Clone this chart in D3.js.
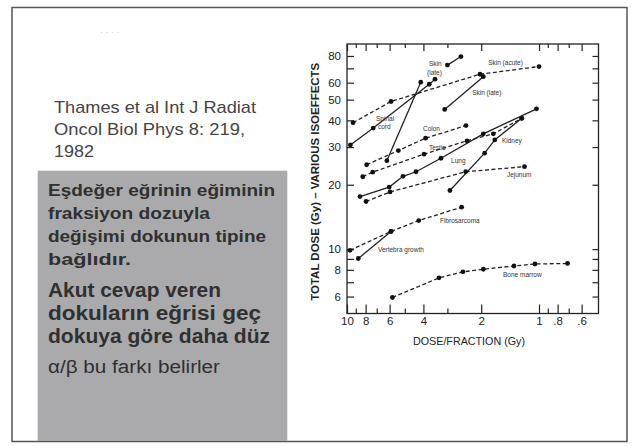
<!DOCTYPE html>
<html>
<head>
<meta charset="utf-8">
<script src="https://cdn.jsdelivr.net/npm/d3@7"></script>
<style>
  body { margin: 0; background: #fff; }
  svg { display: block; font-family: "Liberation Sans", Arial, sans-serif; }
</style>
</head>
<body>
<svg id="slide" width="637" height="446"></svg>
<script>
// Data: [dose per fraction (Gy), total dose (Gy)].
var skinAcute    = [[9.3, 39], [5.9, 49], [2.03, 65.7], [1.0, 71.4]];
var skinLateA    = [[6.2, 25.9], [4.13, 60.3]];
var skinLateB    = [[3.1, 45], [1.95, 64]];
var skinLateC    = [[3.0, 72.5], [2.55, 79.5]];
var spinalCord   = [[9.6, 30.7], [7.3, 36.8], [3.73, 59], [3.48, 62.3]];
var colon        = [[7.9, 24.8], [5.4, 28.9], [3.9, 33], [2.4, 37.8]];
var testis       = [[8.28, 21.8], [7.35, 22.9], [3.97, 27.8], [2.37, 32.1], [1.73, 34.6], [1.23, 40.9]];
var lung         = [[8.56, 17.6], [6.03, 19.5], [5.11, 21.9], [4.37, 23], [3.24, 26.6], [1.95, 34.6], [1.03, 45.3]];
var kidney       = [[2.91, 18.8], [1.92, 28.1], [1.7, 32.4], [1.23, 40.9]];
var jejunum      = [[7.96, 16.7], [5.97, 18.5], [2.41, 23], [1.19, 24.3]];
var fibrosarcoma = [[9.65, 9.87], [5.9, 12.1], [4.23, 13.6], [2.53, 15.7]];
var vertebra     = [[8.73, 9.04], [5.9, 12.1]];
var boneMarrow   = [[5.8, 5.94], [3.32, 7.34], [2.49, 7.83], [1.95, 8.05], [1.35, 8.34], [1.05, 8.52], [0.71, 8.57]];

// Which curves are dashed.
var dashedSeries = [skinAcute, colon, testis, jejunum, fibrosarcoma, boneMarrow];
var solidSeries  = [skinLateA, skinLateB, skinLateC, spinalCord, lung, kidney, vertebra];

// Curve labels: text and anchor [dose, total dose] of the label's start.
var curveLabels = [
  ["Skin (acute)", 1.84, 72.6],
  ["Skin", 3.74, 71.9],
  ["(late)", 3.83, 65.3],
  ["Skin (late)", 2.23, 52.6],
  ["Spinal", 7.06, 39.8],
  ["cord", 6.9, 36.5],
  ["Colon", 4.02, 35.5],
  ["Testis", 3.74, 29.0],
  ["Lung", 2.87, 25.3],
  ["Kidney", 1.56, 31.2],
  ["Jejunum", 1.47, 21.7],
  ["Fibrosarcoma", 3.28, 13.2],
  ["Vertebra growth", 6.9, 9.66],
  ["Bone marrow", 1.54, 7.38]
];

var xTicks  = [10, 9, 8, 7, 6, 5, 4, 3, 2, 1, 0.9, 0.8, 0.7, 0.6];
var xLabels = [10, 8, 6, 4, 2, 1, 0.8, 0.6];
var yTicks  = [6, 7, 8, 9, 10, 20, 30, 40, 50, 60, 70, 80];
var yLabels = [6, 8, 10, 20, 30, 40, 50, 60, 80];

// Slide text, with the width each line takes on the slide.
var refLines  = [["Thames et al Int J Radiat", 202], ["Oncol Biol Phys 8: 219,", 191], ["1982", 40]];
var boxLines1 = [["Eşdeğer eğrinin eğiminin", 227], ["fraksiyon dozuyla", 162],
                 ["değişimi dokunun tipine", 218], ["bağlıdır.", 83]];
var boxLines2 = [["Akut cevap veren", 173], ["dokuların eğrisi geç", 213], ["dokuya göre daha düz", 222]];
var boxLine3  = ["α/β bu farkı belirler", 172];

var svg = d3.select('#slide');

// Slide frame
svg.append('rect')
  .attr('x', 12).attr('y', 7.5).attr('width', 615).attr('height', 434)
  .attr('fill', 'none').attr('stroke', '#555').attr('stroke-width', 1.5);

svg.append('text')
  .attr('x', 100).attr('y', 35)
  .attr('fill', '#ccc').attr('font-size', 9)
  .text('· ·  · ·');

var stretch = function(sel) {
  sel.attr('textLength', function(d) { return d[1]; })
    .attr('lengthAdjust', 'spacingAndGlyphs')
    .text(function(d) { return d[0]; });
};

// Reference text
svg.selectAll('text.ref')
  .data(refLines).enter()
  .append('text').attr('class', 'ref')
  .attr('x', 54).attr('y', function(d, i) { return 113 + i * 22; })
  .attr('fill', '#444').attr('font-size', 17)
  .call(stretch);

// Grey box
svg.append('rect')
  .attr('x', 37.7).attr('y', 170.7).attr('width', 249.6).attr('height', 270.3)
  .attr('fill', '#aaaaac');

svg.selectAll('text.b1')
  .data(boxLines1).enter()
  .append('text').attr('class', 'b1')
  .attr('x', 48).attr('y', function(d, i) { return 195.5 + i * 23.2; })
  .attr('fill', '#303030').attr('font-size', 17).attr('font-weight', 'bold')
  .call(stretch);

svg.selectAll('text.b2')
  .data(boxLines2).enter()
  .append('text').attr('class', 'b2')
  .attr('x', 48).attr('y', function(d, i) { return 296.5 + i * 23.4; })
  .attr('fill', '#303030').attr('font-size', 20).attr('font-weight', 'bold')
  .call(stretch);

svg.selectAll('text.b3')
  .data([boxLine3]).enter()
  .append('text').attr('class', 'b3')
  .attr('x', 48).attr('y', 373)
  .attr('fill', '#303030').attr('font-size', 18)
  .call(stretch);

// Chart
var x = d3.scaleLog().domain([10, 0.49]).range([347, 598.5]);
var y = d3.scaleLog().domain([5, 91]).range([313.5, 44]);
var ink = '#222';

var fmtX = function(d) {
  if (xLabels.indexOf(d) < 0) return '';
  return d < 1 ? String(d).replace('0.', '.') : String(d);
};
var fmtY = function(d) { return yLabels.indexOf(d) < 0 ? '' : String(d); };

var plot = svg.append('g');

// frame
plot.append('rect')
  .attr('x', x.range()[0]).attr('y', y.range()[1])
  .attr('width', x.range()[1] - x.range()[0])
  .attr('height', y.range()[0] - y.range()[1])
  .attr('fill', 'none').attr('stroke', ink).attr('stroke-width', 1.3);

// bottom axis, ticks pointing in
var xAxis = plot.append('g')
  .attr('transform', 'translate(0,' + y.range()[0] + ')')
  .call(d3.axisBottom(x).tickValues(xTicks).tickFormat(fmtX).tickSize(-5).tickPadding(6));
xAxis.selectAll('line').attr('y2', function(d) { return xLabels.indexOf(d) < 0 ? -5 : -9; });

// top axis
var xTop = plot.append('g')
  .attr('transform', 'translate(0,' + y.range()[1] + ')')
  .call(d3.axisTop(x).tickValues(xTicks).tickFormat('').tickSize(-5));
xTop.selectAll('line').attr('y2', function(d) { return xLabels.indexOf(d) < 0 ? 4 : 7; });

// left axis
plot.append('g')
  .attr('transform', 'translate(' + x.range()[0] + ',0)')
  .call(d3.axisLeft(y).tickValues(yTicks).tickFormat(fmtY).tickSize(-7).tickPadding(6));

// right axis
plot.append('g')
  .attr('transform', 'translate(' + x.range()[1] + ',0)')
  .call(d3.axisRight(y).tickValues(yTicks).tickFormat('').tickSize(-6));

plot.selectAll('.domain').remove();
plot.selectAll('.tick line').attr('stroke', ink).attr('stroke-width', 1.2);
plot.selectAll('.tick text')
  .attr('fill', ink).attr('font-size', 11.5)
  .attr('font-family', '"Liberation Sans", Arial, sans-serif');
xAxis.selectAll('.tick text').attr('dy', '0.5em');

// axis titles
plot.append('text')
  .attr('transform', 'translate(319,' + ((y.range()[0] + y.range()[1]) / 2 + 3) + ') rotate(-90)')
  .attr('text-anchor', 'middle')
  .attr('fill', ink).attr('font-size', 10.5).attr('font-weight', 'bold')
  .attr('textLength', 238).attr('lengthAdjust', 'spacingAndGlyphs')
  .text('TOTAL DOSE (Gy) – VARIOUS ISOEFFECTS');

plot.append('text')
  .attr('x', 469).attr('y', 345)
  .attr('text-anchor', 'middle')
  .attr('fill', ink).attr('font-size', 10.5)
  .attr('textLength', 112).attr('lengthAdjust', 'spacingAndGlyphs')
  .text('DOSE/FRACTION (Gy)');

// curves
var line = d3.line()
  .x(function(d) { return x(d[0]); })
  .y(function(d) { return y(d[1]); });

plot.selectAll('path.dashed')
  .data(dashedSeries).enter()
  .append('path').attr('class', 'dashed')
  .attr('d', line)
  .attr('fill', 'none').attr('stroke', ink).attr('stroke-width', 1.3)
  .attr('stroke-dasharray', '4,2.5');

plot.selectAll('path.solid')
  .data(solidSeries).enter()
  .append('path').attr('class', 'solid')
  .attr('d', line)
  .attr('fill', 'none').attr('stroke', ink).attr('stroke-width', 1.3);

var allPoints = d3.merge(dashedSeries.concat(solidSeries));
plot.selectAll('circle')
  .data(allPoints).enter()
  .append('circle')
  .attr('cx', function(d) { return x(d[0]); })
  .attr('cy', function(d) { return y(d[1]); })
  .attr('r', 2.4)
  .attr('fill', '#111');

plot.selectAll('text.lbl')
  .data(curveLabels).enter()
  .append('text').attr('class', 'lbl')
  .attr('x', function(d) { return x(d[1]); })
  .attr('y', function(d) { return y(d[2]); })
  .attr('fill', '#333').attr('font-size', 6.5)
  .text(function(d) { return d[0]; });
</script>
</body>
</html>
